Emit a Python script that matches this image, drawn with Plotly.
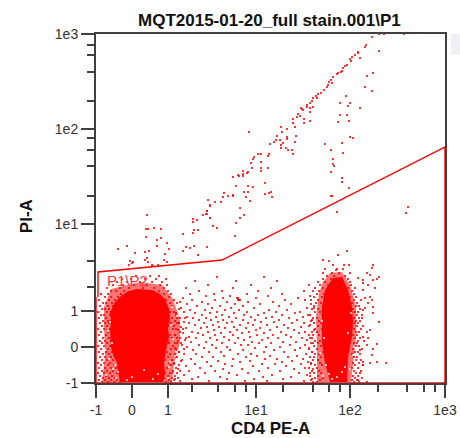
import plotly.graph_objects as go

TITLE = "MQT2015-01-20_full stain.001\\P1"
X_TITLE = "CD4 PE-A"
Y_TITLE = "PI-A"
GATE_LABEL = "P1\\P2"

# Axis positions are in display channels of the biexponential scale
X_TICKS = [0, 36, 72, 160, 254, 349]
Y_TICKS = [0, 36, 72, 159, 254, 349]
TICK_LABELS = ["-1", "0", "1", "1e1", "1e2", "1e3"]
X_MINOR = [96, 122, 139, 150, 187, 217, 233, 244, 282, 311, 328, 339]
Y_MINOR = [96, 122, 187, 217, 233, 245, 282, 311, 328, 338]

GATE_X = [0, 0, 349, 349, 126, 2, 2]
GATE_Y = [86, 0, 0, 236, 123, 111, 86]

LEFT_CORE_X = [26, 33, 41, 56, 64, 69, 73, 74, 72, 73, 70, 68, 69, 67, 24, 22, 21, 17, 15, 14, 15, 14, 19]
LEFT_CORE_Y = [88, 92, 94, 93, 89, 84, 74, 66, 55, 46, 33, 20, 10, 1, 1, 11, 20, 28, 36, 53, 61, 70, 81]
LEFT_HALO_X = [15, 44, 66, 77, 84, 84, 78, 76, 6, 9, 8, 8]
LEFT_HALO_Y = [94, 101, 98, 84, 63, 40, 20, 1, 1, 26, 56, 76]
RIGHT_CORE_X = [237, 246, 252, 256, 257, 256, 252, 251, 234, 229, 226, 226, 226, 229]
RIGHT_CORE_Y = [105, 106, 93, 76, 61, 46, 26, 1, 1, 20, 40, 60, 76, 93]
RIGHT_HALO_X = [234, 246, 254, 260, 260, 257, 255, 221, 221, 220, 223, 227]
RIGHT_HALO_Y = [110, 111, 98, 76, 46, 20, 1, 1, 33, 66, 90, 101]

DIAGONAL_X = [283, 288, 308, 276, 270, 269, 283, 262, 262, 259, 256, 254, 264, 255, 251, 249, 247, 246, 242, 245, 241, 237, 235, 233, 236, 232, 231, 228, 225, 222, 220, 221, 217, 216, 214, 211, 211, 214, 217, 206, 207, 205, 214, 202, 204, 201, 197, 208, 214, 208, 197, 199, 191, 185, 186, 181, 200, 191, 191, 184, 187, 180, 178, 174, 199, 185, 190, 192, 196, 197, 185, 173, 172, 162, 165, 158, 157, 155, 165, 165, 165, 172, 156, 152, 147, 147, 142, 137, 147, 151, 140, 152, 157, 148, 152, 137, 150, 154, 169, 169, 175, 173, 176, 144, 148, 144, 153, 143, 128, 127, 132, 137, 112, 119, 125, 114, 111, 110, 107, 114, 97, 51]
DIAGONAL_Y = [349, 349, 349, 346, 338, 336, 332, 331, 330, 328, 326, 324, 325, 322, 318, 317, 315, 312, 310, 311, 309, 306, 303, 301, 300, 298, 296, 293, 290, 289, 287, 285, 285, 282, 280, 278, 276, 275, 276, 274, 273, 275, 271, 269, 267, 266, 264, 264, 262, 260, 260, 256, 254, 256, 251, 247, 247, 246, 244, 243, 240, 243, 241, 239, 241, 238, 235, 233, 233, 229, 235, 229, 227, 229, 229, 226, 224, 220, 221, 215, 212, 215, 215, 211, 212, 209, 208, 206, 207, 210, 197, 197, 196, 191, 191, 187, 186, 182, 200, 189, 191, 190, 186, 175, 168, 165, 251, 207, 190, 186, 187, 188, 183, 181, 181, 178, 172, 169, 168, 165, 164, 168]

OFF_DIAGONAL_X = [271, 277, 269, 276, 250, 244, 254, 252, 264, 244, 251, 253, 242, 254, 257, 229, 246, 247, 235, 237, 237, 238, 235, 246, 246, 253, 235, 236, 241, 312, 310]
OFF_DIAGONAL_Y = [307, 310, 296, 292, 287, 280, 280, 277, 275, 268, 268, 262, 261, 246, 245, 239, 240, 230, 233, 224, 219, 217, 211, 205, 201, 195, 187, 187, 171, 176, 170]

ABOVE_GATE_X = [52, 50, 58, 65, 50, 61, 65, 61, 71, 73, 69, 68, 71, 87, 97, 101, 111, 111, 114, 114, 117, 121, 140, 139, 98, 102, 97, 90, 94, 98, 87, 111, 102, 39, 31, 22, 49, 53, 51, 49, 52, 37, 34, 36, 33, 57, 62, 56]
ABOVE_GATE_Y = [154, 154, 155, 154, 146, 143, 145, 137, 140, 134, 129, 123, 121, 149, 161, 163, 172, 169, 177, 165, 157, 155, 160, 147, 153, 153, 150, 136, 135, 137, 132, 136, 128, 130, 137, 134, 131, 132, 125, 123, 121, 121, 122, 120, 118, 117, 118, 118]

TAIL_X = [277, 276, 271, 274, 283, 281, 277, 272, 279, 267, 267, 262, 267, 269, 274, 276, 272, 267, 269, 277, 277, 283, 266, 274, 271, 267, 272, 271, 281, 277, 264, 274, 281, 290, 267, 276, 271, 262, 267, 242, 251, 227, 233, 237, 248, 253, 240]
TAIL_Y = [118, 115, 110, 108, 106, 104, 103, 98, 95, 103, 100, 105, 93, 85, 86, 83, 80, 73, 75, 76, 70, 61, 65, 53, 51, 46, 45, 38, 39, 34, 33, 20, 21, 20, 21, 28, 1, 3, 18, 128, 132, 123, 122, 118, 118, 118, 113]

MID_ROWS = [
    (2, [84, 113, 149, 171, 208]),
    (4, [79, 96, 131, 158, 187, 216]),
    (6, [102, 124, 167, 195]),
    (8, [88, 141, 176, 211]),
    (10, [77, 109, 133, 152, 203, 214]),
    (12, [93, 119, 163, 184]),
    (14, [82, 127, 146, 198, 217]),
    (15, [104, 172, 209]),
    (17, [90, 115, 136, 157, 190]),
    (19, [78, 99, 129, 166, 179, 205, 215]),
    (21, [111, 144, 186, 212]),
    (22, [85, 122, 154, 196]),
    (24, [95, 137, 169, 181, 207]),
    (26, [80, 106, 117, 150, 192, 218]),
    (27, [128, 161, 174, 201]),
    (29, [88, 100, 142, 155, 210]),
    (31, [83, 113, 125, 168, 188, 216]),
    (33, [97, 134, 147, 178, 199]),
    (35, [79, 108, 120, 159, 204, 213]),
    (36, [91, 131, 170, 184]),
    (38, [86, 103, 116, 145, 152, 194, 209]),
    (40, [81, 126, 139, 163, 175, 217]),
    (41, [95, 110, 156, 187, 200]),
    (43, [89, 121, 133, 148, 166, 211]),
    (45, [84, 100, 114, 142, 172, 182, 206, 216]),
    (46, [93, 128, 154, 195]),
    (48, [79, 107, 119, 137, 161, 177, 190, 213]),
    (50, [87, 102, 125, 146, 168, 203]),
    (51, [96, 112, 134, 153, 185, 209]),
    (53, [82, 118, 141, 160, 174, 198, 218]),
    (55, [90, 105, 129, 150, 164, 192]),
    (56, [85, 111, 123, 138, 181, 205]),
    (58, [99, 117, 144, 157, 171, 188, 214]),
    (60, [81, 93, 108, 131, 152, 196, 208]),
    (61, [88, 122, 136, 165, 178]),
    (63, [103, 115, 127, 147, 159, 183, 201, 216]),
    (65, [84, 97, 110, 140, 170, 193]),
    (66, [91, 120, 133, 155, 176, 207]),
    (68, [106, 126, 148, 162, 186, 212]),
    (70, [80, 99, 114, 138, 168, 199]),
    (71, [88, 121, 151, 180, 204]),
    (73, [94, 109, 129, 143, 173, 191]),
    (75, [85, 116, 135, 158, 211, 218]),
    (77, [101, 124, 147, 183]),
    (79, [91, 112, 139, 164, 195, 215]),
    (81, [84, 106, 131, 152, 177]),
    (83, [96, 119, 142, 143, 144, 189, 209]),
    (85, [87, 127, 141, 142, 160, 202]),
    (87, [110, 134, 172, 214]),
    (89, [94, 118, 151, 186]),
    (92, [103, 126, 162, 208, 217]),
    (95, [90, 137, 175]),
    (98, [112, 155, 213]),
    (102, [99, 140, 181]),
    (106, [121, 168]),
]

EDGE_ROWS = [
    (1, [6, 12, 18, 24, 70, 75, 217, 221, 258, 263]),
    (3, [3, 9, 15, 21, 73, 78, 215, 224, 256, 261]),
    (5, [7, 13, 19, 68, 76, 82, 219, 227, 259, 266]),
    (7, [4, 10, 16, 72, 79, 214, 222, 257, 262]),
    (10, [2, 8, 14, 21, 69, 74, 81, 218, 225, 260, 264]),
    (12, [6, 11, 17, 77, 84, 216, 223, 258, 265]),
    (15, [3, 9, 15, 20, 71, 80, 213, 221, 256, 262]),
    (18, [5, 12, 18, 67, 75, 83, 219, 226, 259, 267]),
    (20, [2, 8, 14, 73, 78, 215, 224, 257, 263]),
    (23, [6, 11, 17, 69, 76, 86, 217, 222, 260, 265]),
    (26, [4, 9, 15, 19, 72, 81, 214, 225, 258, 261]),
    (29, [7, 13, 18, 68, 74, 79, 219, 223, 256, 264]),
    (31, [3, 10, 16, 71, 83, 216, 227, 259, 262]),
    (34, [5, 12, 17, 75, 80, 88, 213, 221, 257, 266]),
    (37, [2, 8, 14, 70, 77, 218, 225, 260, 263]),
    (40, [6, 11, 16, 73, 79, 85, 215, 222, 258, 261]),
    (42, [4, 9, 15, 72, 82, 219, 224, 262, 268]),
    (45, [7, 13, 76, 81, 90, 214, 227, 259, 264]),
    (48, [3, 10, 16, 74, 79, 217, 223, 257, 261]),
    (51, [5, 12, 15, 71, 84, 216, 221, 260, 263]),
    (54, [2, 8, 14, 77, 80, 87, 219, 226, 258, 265]),
    (57, [6, 11, 16, 72, 78, 213, 222, 261, 267]),
    (60, [4, 9, 13, 75, 83, 218, 225, 259, 262]),
    (62, [7, 12, 15, 73, 79, 215, 223, 260, 264]),
    (65, [3, 10, 16, 76, 81, 89, 217, 221, 258, 263]),
    (68, [5, 8, 14, 72, 80, 214, 226, 261, 266]),
    (71, [2, 11, 15, 74, 78, 219, 224, 259, 262]),
    (74, [6, 9, 13, 71, 83, 216, 222, 257, 264]),
    (77, [4, 12, 17, 69, 76, 218, 227, 260, 263]),
    (80, [7, 10, 16, 66, 74, 81, 220, 225, 256, 261]),
    (83, [3, 13, 19, 70, 78, 215, 222, 258, 265]),
    (86, [9, 15, 22, 64, 73, 218, 226, 254, 260]),
    (89, [5, 12, 25, 60, 68, 75, 221, 228, 252, 258]),
    (92, [15, 20, 28, 42, 55, 63, 72, 223, 230, 250, 256]),
    (95, [11, 24, 33, 47, 58, 68, 219, 227, 252, 259]),
    (98, [17, 27, 38, 51, 64, 71, 224, 232, 248, 255]),
    (101, [21, 31, 44, 56, 66, 222, 229, 241, 254]),
    (104, [26, 35, 49, 60, 70, 227, 235, 244, 252]),
    (107, [40, 54, 63, 231, 238, 249]),
    (110, [227, 236, 243, 254]),
    (114, [229, 241, 247]),
]

WHITE_SPECK_X = [10, 17, 13, 20, 9, 16, 12, 22, 14, 19, 78, 74, 80, 72, 77, 75, 81, 76, 73, 79, 36, 48, 57, 31, 62, 227, 230, 224, 228, 226, 254, 257, 252, 255, 258, 241, 246, 236, 249, 233]
WHITE_SPECK_Y = [8, 14, 24, 5, 33, 40, 52, 11, 61, 18, 10, 21, 31, 5, 44, 58, 67, 76, 16, 27, 6, 13, 4, 3, 9, 7, 18, 30, 45, 62, 14, 28, 50, 70, 36, 6, 11, 4, 16, 9]

MID_X = [x for y, xs in MID_ROWS for x in xs]
MID_Y = [y for y, xs in MID_ROWS for x in xs]
EDGE_X = [x for y, xs in EDGE_ROWS for x in xs]
EDGE_Y = [y for y, xs in EDGE_ROWS for x in xs]
RED = "#ff0000"
DARK = "#404040"

fig = go.Figure()
for xs, ys, fill in [
    (LEFT_HALO_X, LEFT_HALO_Y, "rgba(255,0,0,0.55)"),
    (RIGHT_HALO_X, RIGHT_HALO_Y, "rgba(255,0,0,0.55)"),
    (LEFT_CORE_X, LEFT_CORE_Y, RED),
    (RIGHT_CORE_X, RIGHT_CORE_Y, RED),
]:
    fig.add_trace(go.Scatter(x=xs, y=ys, mode="lines", fill="toself", fillcolor=fill,
                             line=dict(width=0), hoverinfo="skip", showlegend=False))

for xs, ys in [(DIAGONAL_X, DIAGONAL_Y), (OFF_DIAGONAL_X, OFF_DIAGONAL_Y),
               (ABOVE_GATE_X, ABOVE_GATE_Y), (TAIL_X, TAIL_Y), (MID_X, MID_Y),
               (EDGE_X, EDGE_Y)]:
    fig.add_trace(go.Scatter(x=xs, y=ys, mode="markers", showlegend=False,
                             marker=dict(symbol="square", size=2, color=RED, opacity=0.8, line=dict(width=0))))
fig.add_trace(go.Scatter(x=WHITE_SPECK_X, y=WHITE_SPECK_Y, mode="markers", showlegend=False,
                         marker=dict(symbol="square", size=2, color="white", opacity=0.7, line=dict(width=0))))

fig.add_trace(go.Scatter(x=GATE_X, y=GATE_Y, mode="lines", showlegend=False,
                         line=dict(color=RED, width=1.4), cliponaxis=False))

axis = dict(showgrid=False, zeroline=False, showline=True, mirror=True, linecolor=DARK, linewidth=2,
            ticks="outside", ticklen=13, tickwidth=2, tickcolor=DARK, ticktext=TICK_LABELS,
            tickmode="array", tickfont=dict(family="Liberation Sans", size=14, color="#333333"),
            layer="below traces", automargin=False)
minor = dict(ticks="outside", ticklen=7, tickwidth=2, tickcolor=DARK, showgrid=False)
fig.update_xaxes(**axis, tickvals=X_TICKS, range=[0, 349], minor=dict(**minor, tickmode="array", tickvals=X_MINOR))
fig.update_yaxes(**axis, tickvals=Y_TICKS, range=[0, 349], minor=dict(**minor, tickmode="array", tickvals=Y_MINOR))

bold = dict(family="Liberation Sans", size=17, color="#111111")
fig.update_layout(
    width=460, height=438, autosize=False, showlegend=False,
    margin=dict(l=96, r=15, t=34, b=55), paper_bgcolor="white", plot_bgcolor="white",
    shapes=[dict(type="rect", xref="paper", yref="paper", x0=1.017, x1=1.05, y0=0.94, y1=1.0,
                 fillcolor="#eef0f5", line=dict(width=0), layer="below")],
    annotations=[
        dict(text=f"<b>{TITLE}</b>", xref="paper", yref="paper", x=0.497, y=1.0, yshift=14, yanchor="middle", showarrow=False, font=bold),
        dict(text=f"<b>{X_TITLE}</b>", xref="paper", yref="paper", x=0.5, y=0, yshift=-45, yanchor="middle", showarrow=False, font=bold),
        dict(text=f"<b>{Y_TITLE}</b>", xref="paper", yref="paper", x=0, xshift=-70, xanchor="center", y=0.478, yanchor="middle", textangle=-90, showarrow=False, font=bold),
        dict(text=GATE_LABEL, xref="x", yref="y", x=9, y=103, xanchor="left", showarrow=False,
             font=dict(family="Liberation Sans", size=15, color="#ff3040")),
    ],
)

fig.write_html("out.html", config=dict(displayModeBar=False),
               post_script="document.body.style.margin='0';document.body.style.overflow='hidden';")
